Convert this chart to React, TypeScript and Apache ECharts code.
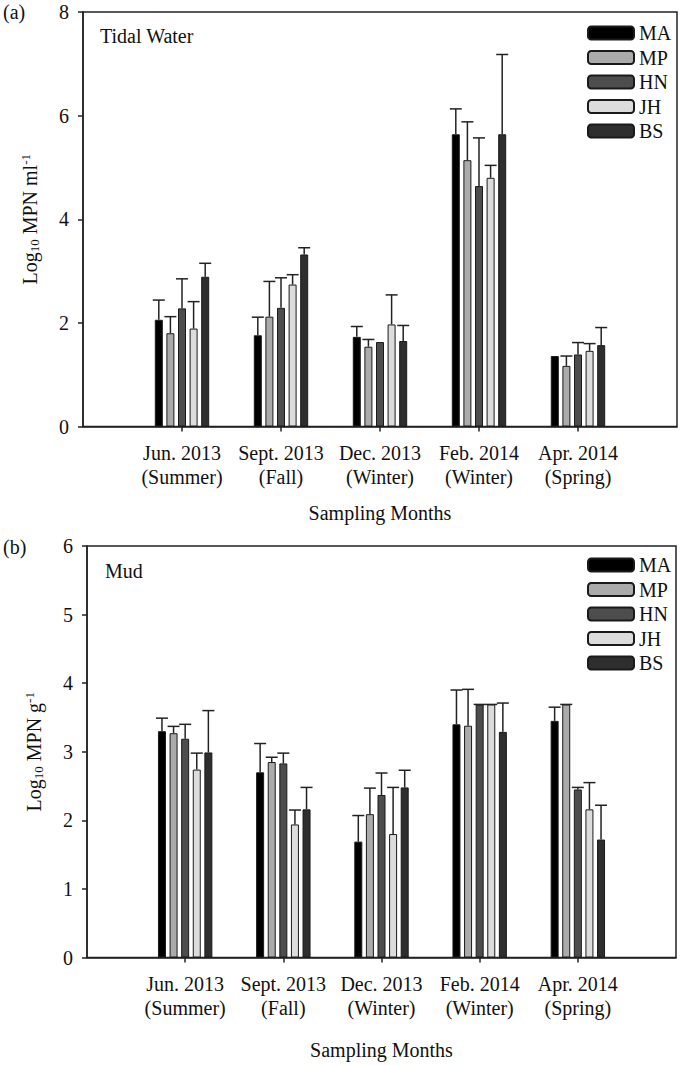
import React, { useEffect, useRef } from "react";
import * as echarts from "echarts";

const categories = ["", "Jun. 2013\n(Summer)", "Sept. 2013\n(Fall)", "Dec. 2013\n(Winter)", "Feb. 2014\n(Winter)", "Apr. 2014\n(Spring)", ""];
const seriesNames = ["MA", "MP", "HN", "JH", "BS"];
const seriesColors = ["#000000", "#ababab", "#4d4d4d", "#dcdcdc", "#2e2e2e"];

// (a) Tidal Water: means and upper error magnitudes
const waterMA = [2.06, 1.76, 1.73, 5.64, 1.36];
const waterMP = [1.80, 2.12, 1.54, 5.14, 1.17];
const waterHN = [2.28, 2.29, 1.63, 4.64, 1.39];
const waterJH = [1.89, 2.74, 1.97, 4.80, 1.46];
const waterBS = [2.89, 3.32, 1.65, 5.64, 1.57];
const waterErrMA = [0.38, 0.35, 0.20, 0.49, null];
const waterErrMP = [0.32, 0.68, 0.14, 0.74, 0.19];
const waterErrHN = [0.57, 0.58, null, 0.93, 0.23];
const waterErrJH = [0.52, 0.19, 0.57, 0.24, 0.14];
const waterErrBS = [0.26, 0.13, 0.30, 1.54, 0.34];

// (b) Mud
const mudMA = [3.30, 2.70, 1.69, 3.40, 3.45];
const mudMP = [3.27, 2.85, 2.09, 3.38, 3.69];
const mudHN = [3.19, 2.83, 2.37, 3.69, 2.45];
const mudJH = [2.74, 1.94, 1.80, 3.69, 2.16];
const mudBS = [2.99, 2.16, 2.48, 3.29, 1.72];
const mudErrMA = [0.19, 0.42, 0.38, 0.50, 0.20];
const mudErrMP = [0.10, 0.07, 0.38, 0.53, 0];
const mudErrHN = [0.21, 0.15, 0.32, 0, 0.03];
const mudErrJH = [0.24, 0.21, 0.68, 0, 0.39];
const mudErrBS = [0.61, 0.32, 0.25, 0.42, 0.50];

const waterTicks = { max: 8, interval: 2 };
const mudTicks = { max: 6, interval: 1 };

const FONT = "Liberation Serif";
const FS = 20;
const BAR_W = 8;
const GAP = 0.45;
const PITCH = BAR_W * (1 + GAP);

export default function App() {
  const ref = useRef<HTMLDivElement>(null);
  useEffect(() => {
    if (!ref.current) return;
    const chart = echarts.init(ref.current, undefined, { renderer: "svg" });

    const waterVals = [waterMA, waterMP, waterHN, waterJH, waterBS];
    const waterErrs = [waterErrMA, waterErrMP, waterErrHN, waterErrJH, waterErrBS];
    const mudVals = [mudMA, mudMP, mudHN, mudJH, mudBS];
    const mudErrs = [mudErrMA, mudErrMP, mudErrHN, mudErrJH, mudErrBS];

    const series: any[] = [];
    const addPanel = (vals: number[][], errs: (number | null)[][], gi: number) => {
      seriesNames.forEach((name, si) => {
        series.push({
          type: "bar",
          name,
          xAxisIndex: gi,
          yAxisIndex: gi,
          barWidth: BAR_W,
          barGap: GAP * 100 + "%",
          data: [null, ...vals[si], null],
          itemStyle: { color: seriesColors[si], borderColor: "#1a1a1a", borderWidth: 1 },
          z: 2,
        });
      });
      seriesNames.forEach((name, si) => {
        const offset = (si - 2) * PITCH;
        const data: number[][] = [];
        vals[si].forEach((v, i) => {
          const e = errs[si][i];
          if (e !== null && e !== undefined) data.push([i + 1, v, e]);
        });
        series.push({
          type: "custom",
          name: name + "_err",
          xAxisIndex: gi,
          yAxisIndex: gi,
          data,
          z: 3,
          silent: true,
          renderItem: (_p: any, api: any) => {
            const ci = api.value(0);
            const v = api.value(1);
            const e = api.value(2);
            const b = api.coord([ci, v]);
            const t = api.coord([ci, v + e]);
            const x = b[0] + offset;
            const st = { stroke: "#222", lineWidth: 1.5 };
            return {
              type: "group",
              children: [
                { type: "line", shape: { x1: x, y1: b[1], x2: x, y2: t[1] }, style: st },
                { type: "line", shape: { x1: x - 6, y1: t[1], x2: x + 6, y2: t[1] }, style: st },
              ],
            };
          },
        });
      });
    };
    addPanel(waterVals, waterErrs, 0);
    addPanel(mudVals, mudErrs, 1);

    const xAxisBase = (gi: number, nameGap: number) => ({
      type: "category",
      gridIndex: gi,
      data: categories,
      boundaryGap: false,
      name: "Sampling Months",
      nameLocation: "middle",
      nameGap,
      nameTextStyle: { fontFamily: FONT, fontSize: FS, color: "#111" },
      axisLine: { show: true, lineStyle: { color: "#222", width: 1.5 } },
      axisTick: {
        show: true,
        length: 5,
        interval: (i: number) => i >= 1 && i <= 5,
        lineStyle: { color: "#222", width: 1.5 },
      },
      axisLabel: {
        interval: 0,
        margin: 14,
        fontFamily: FONT,
        fontSize: FS,
        color: "#111",
        lineHeight: 24,
      },
      splitLine: { show: false },
    });

    const yName = (unit: string, sup: string) =>
      "{n|Log}{s|10}{n| MPN " + unit + "}{p|" + sup + "}";

    const yAxisBase = (gi: number, t: { max: number; interval: number }, name: string) => ({
      type: "value",
      gridIndex: gi,
      min: 0,
      max: t.max,
      interval: t.interval,
      name,
      nameLocation: "middle",
      nameGap: 42,
      nameTextStyle: {
        fontFamily: FONT,
        fontSize: FS,
        color: "#111",
        rich: {
          n: { fontFamily: FONT, fontSize: FS, color: "#111", lineHeight: 22 },
          s: { fontFamily: FONT, fontSize: 13, color: "#111", lineHeight: 22, verticalAlign: "bottom", padding: [8, 0, 0, 0] },
          p: { fontFamily: FONT, fontSize: 13, color: "#111", lineHeight: 22, verticalAlign: "top", padding: [0, 0, 8, 0] },
        },
      },
      axisLine: { show: true, lineStyle: { color: "#222", width: 1.5 } },
      axisTick: { show: true, length: 5, lineStyle: { color: "#222", width: 1.5 } },
      axisLabel: { margin: 14, fontFamily: FONT, fontSize: FS, color: "#111" },
      splitLine: { show: false },
    });

    const legendBase = (top: number) => ({
      orient: "vertical",
      left: 582,
      top,
      itemWidth: 46,
      itemHeight: 13,
      itemGap: 4.5,
      data: seriesNames,
      selectedMode: false,
      textStyle: { fontFamily: FONT, fontSize: FS, color: "#111", lineHeight: 20 },
    });

    chart.setOption({
      animation: false,
      grid: [
        { left: 83, top: 12, width: 594, height: 414.5, show: true, borderColor: "#222", borderWidth: 1.5, backgroundColor: "transparent" },
        { left: 87, top: 546, width: 589, height: 411.5, show: true, borderColor: "#222", borderWidth: 1.5, backgroundColor: "transparent" },
      ],
      xAxis: [xAxisBase(0, 76), xAxisBase(1, 82)],
      yAxis: [
        yAxisBase(0, waterTicks, yName("ml", "-1")),
        yAxisBase(1, mudTicks, yName("g", "-1")),
      ],
      legend: [legendBase(18), legendBase(550)],
      graphic: [
        { type: "text", left: 3, top: 2, style: { text: "(a)", fontFamily: FONT, fontSize: FS, fill: "#111" } },
        { type: "text", left: 100, top: 26, style: { text: "Tidal Water", fontFamily: FONT, fontSize: FS, fill: "#111" } },
        { type: "text", left: 3, top: 537, style: { text: "(b)", fontFamily: FONT, fontSize: FS, fill: "#111" } },
        { type: "text", left: 105, top: 561, style: { text: "Mud", fontFamily: FONT, fontSize: FS, fill: "#111" } },
      ],
      series,
    });

    return () => chart.dispose();
  }, []);

  return (
    <div
      ref={ref}
      style={{ position: "absolute", left: 0, top: 0, width: 680, height: 1065 }}
    />
  );
}
